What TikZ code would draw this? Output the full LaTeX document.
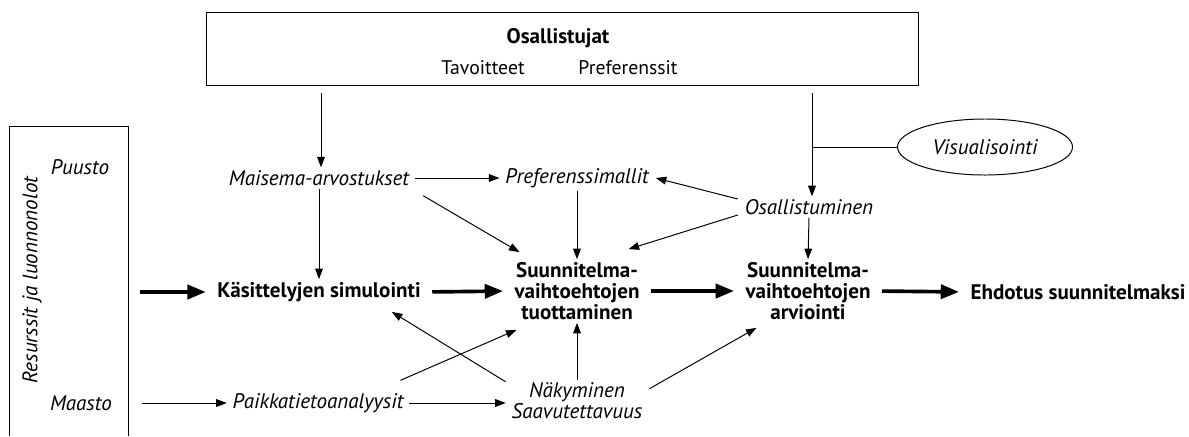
\documentclass[tikz,border=0pt]{standalone}
\usepackage{fontspec}
\setmainfont{PT Sans}
\usetikzlibrary{arrows.meta,calc,shapes.geometric}

\tikzset{
	txt/.style={inner sep=2pt, font=\fontsize{14}{15}\selectfont},
	lab/.style={txt, font=\fontsize{15}{15}\selectfont\itshape},
	main/.style={txt, align=center, font=\fontsize{15}{15}\selectfont\bfseries},
	arr/.style={-{Triangle[length=7.5pt, width=5.5pt]}, line width=0.7pt},
	bigarr/.style={-{Triangle[length=13pt, width=10pt]}, line width=2.6pt, shorten <=6pt, shorten >=6pt}
}

\begin{document}
\begin{tikzpicture}[x=0.025cm, y=-0.025cm]
		\useasboundingbox (0,0) rectangle (1189,436);
		% boxes
		\node[draw, line width=0.7pt, minimum width=17.775cm, minimum height=1.825cm] (osall) at (562.5,48.5){};
		\node[main] (ojat) at (558,38){Osallistujat};
		\node[txt] (tav) at (483,68){Tavoitteet};
		\node[txt] (pref) at (628,68){Preferenssit};
		\draw[line width=0.7pt] (9,436) -- (9,126) -- (128,126) -- (128,436);
		\node[lab, rotate=90] (res) at (32,280){Resurssit ja luonnonolot};
		\node[lab] (puusto) at (80,167){Puusto};
		\node[lab] (maasto) at (81,403){Maasto};
		% nodes
		\node[lab] (maisema) at (319,178){Maisema-arvostukset};
		\node[lab] (prefm) at (577,178){Preferenssimallit};
		\node[lab] (osalm) at (809,207){Osallistuminen};
		\node[lab, draw, ellipse, line width=0.7pt, minimum width=4.375cm, minimum height=1.4cm] (visu) at (985,147){Visualisointi};
		\node[main] (kas) at (319,292){Käsittelyjen simulointi};
		\node[main] (tuot) at (577,291){Suunnitelma-\\vaihtoehtojen\\tuottaminen};
		\node[main] (arvi) at (808,291){Suunnitelma-\\vaihtoehtojen\\arviointi};
		\node[main] (ehd) at (1078,292){Ehdotus suunnitelmaksi};
		\node[lab] (paikka) at (318,403){Paikkatietoanalyysit};
		\node[lab, align=center] (nak) at (577,401){Näkyminen\\Saavutettavuus};
		\coordinate (c1) at (321,93);
		\coordinate (c2) at (812,93);
		\coordinate (c3) at (132,292);
		\coordinate (c4) at (142,403);
		% thin connectors
		\draw[arr] (c1) -- (maisema.north -| c1);
		\draw[arr] (c2) -- (osalm.north -| c2);
		\draw[line width=0.7pt] (visu.west) -- (visu.west -| c2);
		\draw[arr] ([xshift=2pt]maisema.east) -- ([xshift=-2pt]prefm.west);
		\draw[arr] ($(maisema.south east)+(11,7)$) -- ($(tuot.north west)+(8,-7)$);
		\draw[arr] (maisema.south) -- (kas.north);
		\draw[arr] (prefm.south) -- (tuot.north);
		\draw[arr] ($(osalm.west)+(-4,-8)$) -- ($(prefm.east)+(4,0)$);
		\draw[arr] ($(osalm.west)+(-4,8)$) -- ($(tuot.north east)+(-14,-10)$);
		\draw[arr] (osalm.south) -- (arvi.north);
		\draw[arr] (c4) -- ([xshift=-2pt]paikka.west);
		\draw[arr] ([xshift=2pt]paikka.east) -- ([xshift=-2pt]paikka.east -| nak.west);
		\draw[arr] ($(paikka.north east)+(-6,-10)$) -- ($(tuot.south west)+(5,7)$);
		\draw[arr] ($(nak.north west)+(-3,2)$) -- ($(kas.south east)+(-32,7)$);
		\draw[arr] (nak.north) -- (tuot.south);
		\draw[arr] ($(nak.north east)+(4,9)$) -- ($(arvi.south west)+(14,5)$);
		% thick connectors
		\draw[bigarr] (c3) -- (kas.west);
		\draw[bigarr] (kas.east) -- (tuot.west);
		\draw[bigarr] (tuot.east) -- (arvi.west);
		\draw[bigarr] (arvi.east) -- (ehd.west);
		\end{tikzpicture}
\end{document}
